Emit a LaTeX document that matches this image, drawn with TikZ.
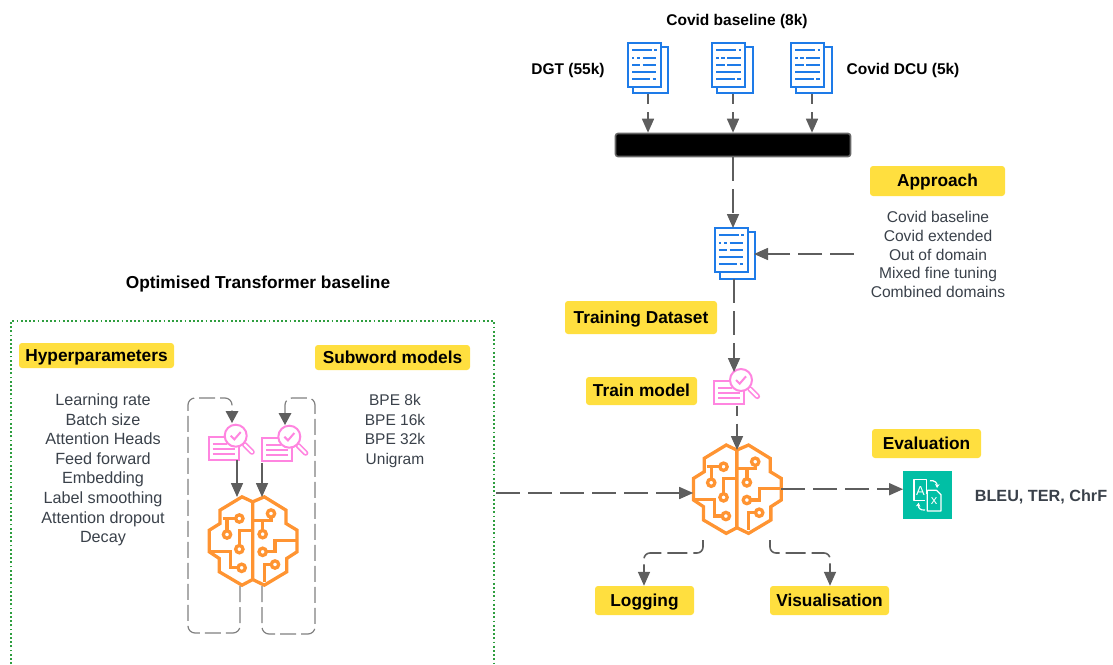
\documentclass[tikz,border=0pt]{standalone}
\usepackage{fontspec}
\setmainfont{Liberation Sans}
\usetikzlibrary{arrows.meta,calc}
\definecolor{ybox}{HTML}{FFDF3F}
\definecolor{blueicon}{HTML}{1E7BE8}
\definecolor{pinkicon}{HTML}{FF85E0}
\definecolor{orangeicon}{HTML}{FF9432}
\definecolor{tealicon}{HTML}{01BFA5}
\definecolor{conn}{HTML}{5E5E5E}
\definecolor{txt}{HTML}{3A414A}
\definecolor{greenbox}{HTML}{2E9E3F}
\tikzset{
  tag/.style={fill=ybox,rounded corners=3pt,inner sep=0pt,text height=12pt,text depth=1pt,font=\fontsize{17.3}{20}\selectfont\bfseries,text=black,anchor=center},
  flow/.style={draw=conn,line width=1.6pt,dash pattern=on 24pt off 8pt,-{Triangle[length=14pt,width=12pt]}},
  shortstart/.style={dash phase=14pt},
  solidflow/.style={draw=conn,line width=1.6pt,-{Triangle[length=14pt,width=12pt]}},
  loopflow/.style={draw=black!50,line width=1.2pt,dash pattern=on 16pt off 5pt,rounded corners=7pt},
  blabel/.style={font=\fontsize{15.5}{18}\selectfont\bfseries,text=black},
  body/.style={font=\fontsize{15.6}{18.8}\selectfont,text=txt,align=center},
  iconspot/.style={inner sep=0pt,outer sep=0pt,draw=none,fill=none},
}
\newcommand{\docicon}[2]{%
\begin{scope}[shift={(#1,#2)},x=.3333pt,y=-.3333pt,draw=blueicon,line width=2pt]
\draw[fill=white] (0,0) rectangle (99,132);
\draw (99,12)--(122,12)--(122,152)--(15,152)--(15,132);
\draw (13,22)--(72,22) (80,22)--(88,22);
\draw (13,45)--(20,45) (28,45)--(38,45) (45,45)--(86,45);
\draw (13,66)--(38,66) (45,66)--(86,66);
\draw (13,88)--(86,88);
\draw (13,108)--(68,108) (75,108)--(86,108);
\end{scope}}
\newcommand{\searchicon}[2]{%
\begin{scope}[shift={(#1,#2)},x=.3333pt,y=-.3333pt,draw=pinkicon,line width=2pt]
\draw (0,0) rectangle (90,70);
\draw (12,22)--(55,22) (12,37)--(78,37) (12,52)--(78,52);
\draw[line width=5.5pt,line cap=round] (108,24)--(130,46);
\draw[draw=white,line width=2.2pt,line cap=round] (108,24)--(130,46);
\draw[fill=white] (81,-3) circle[radius=33];
\draw[line width=2pt] (66,-3)--(77,8)--(96,-14);
\end{scope}}
\newcommand{\brainicon}[2]{%
\begin{scope}[shift={(#1,#2)},x=.3333pt,y=-.3333pt,draw=orangeicon,line width=3.3pt,line join=miter]
\begin{scope}[shift={(-171,-387.5)}]
\draw (170,270)--(138,255)--(72,295)--(72,335)--(40,355)--(40,420)--(70,440)--(70,480)--(138,520)--(170,503)--cycle;
\draw (170,270)--(205,255)--(270,295)--(270,335)--(303,355)--(303,420)--(272,440)--(272,480)--(205,520)--(170,503);
\draw (80,320)--(120,320) (93,320)--(93,358);
\draw (130,320) circle[radius=11];
\draw (93,368) circle[radius=11];
\draw (170,355)--(130,355)--(130,401);
\draw (130,412) circle[radius=11];
\draw (40,418)--(103,418)--(103,468)--(126,468);
\draw (137,468) circle[radius=11];
\draw (170,325)--(225,325)--(225,316);
\draw (225,305) circle[radius=11];
\draw (200,325)--(200,356);
\draw (200,367) circle[radius=11];
\draw (211,420)--(237,420)--(237,385)--(303,385);
\draw (200,420) circle[radius=11];
\draw (205,510)--(205,458)--(226,458);
\draw (237,458) circle[radius=11];
\end{scope}
\end{scope}}
\begin{document}
\begin{tikzpicture}[x=1pt,y=-1pt]
\useasboundingbox (0,0) rectangle (1113,664);
% green frame
\coordinate (gbl) at (11,664);
\coordinate (gtl) at (11,321);
\coordinate (gtr) at (494,321);
\coordinate (gbr) at (494,664);
\draw[greenbox,line width=1.7pt,dash pattern=on 1.8pt off 2.4pt] (gbl)--(gtl)--(gtr)--(gbr);
% titles
\node[blabel] (tcovid) at (737,21) {Covid baseline (8k)};
\node[blabel] (tdgt) at (568,70) {DGT (55k)};
\node[blabel] (tdcu) at (903,70) {Covid DCU (5k)};
\node[font=\fontsize{17.3}{20}\selectfont\bfseries] (topt) at (258,284) {Optimised Transformer baseline};
\node[font=\fontsize{16.2}{18}\selectfont\bfseries,text=txt] (tbleu) at (1041,497) {BLEU, TER, ChrF};
% tags
\node[tag,minimum width=135pt,minimum height=30pt] (approach) at (937.5,181) {Approach};
\node[tag,minimum width=152pt,minimum height=33pt] (training) at (641,317.5) {Training Dataset};
\node[tag,minimum width=111pt,minimum height=28pt] (trainm) at (641.5,391) {Train model};
\node[tag,minimum width=109pt,minimum height=29pt] (evalu) at (926.5,443.5) {Evaluation};
\node[tag,minimum width=99pt,minimum height=29pt] (logg) at (644.5,600.5) {Logging};
\node[tag,minimum width=119pt,minimum height=29pt] (visu) at (829.5,600.5) {Visualisation};
\node[tag,minimum width=155pt,minimum height=25pt] (hyper) at (96.5,355.5) {Hyperparameters};
\node[tag,minimum width=155pt,minimum height=25pt] (subw) at (392.5,357.5) {Subword models};
% lists
\node[body] (lapproach) at (938,254.5) {Covid baseline\\Covid extended\\Out of domain\\Mixed fine tuning\\Combined domains};
\node[body,font=\fontsize{16.2}{19.6}\selectfont] (lhyper) at (103,470) {Learning rate\\Batch size\\Attention Heads\\Feed forward\\Embedding\\Label smoothing\\Attention dropout\\Decay};
\node[body,font=\fontsize{15.5}{19.6}\selectfont] (lsub) at (395,431) {BPE 8k\\BPE 16k\\BPE 32k\\Unigram};
% bar
\node[fill=black,draw=black!60,line width=1.6pt,rounded corners=2.5pt,minimum width=235pt,minimum height=23pt,inner sep=0pt] (bar) at (733,145) {};
% icons
\docicon{627.7}{42.7}\docicon{712}{42.7}\docicon{791}{42.7}\docicon{714.5}{228}
\node[iconspot,minimum width=40pt,minimum height=51pt] (d1) at (648,68.5) {};
\node[iconspot,minimum width=40pt,minimum height=51pt] (d2) at (733,68.5) {};
\node[iconspot,minimum width=40pt,minimum height=51pt] (d3) at (812,68.5) {};
\node[iconspot,minimum width=40pt,minimum height=51pt] (d4) at (734,253.5) {};
\searchicon{714}{381}\searchicon{208.7}{436.7}\searchicon{262.3}{437.7}
\node[iconspot,minimum width=46pt,minimum height=37pt] (s0) at (737,387) {};
\node[iconspot,minimum width=46pt,minimum height=37pt] (s1) at (232,442.5) {};
\node[iconspot,minimum width=46pt,minimum height=37pt] (s2) at (285,443.5) {};
\brainicon{737.2}{489.2}\brainicon{253}{541}
\node[iconspot,minimum width=88pt,minimum height=88pt] (b0) at (737.2,489.2) {};
\node[iconspot,minimum width=88pt,minimum height=88pt] (b1) at (253,541) {};
% translate icon
\node[fill=tealicon,minimum width=49pt,minimum height=48.5pt,inner sep=0pt] (trans) at (927.8,495.2) {};
\begin{scope}[shift={(890,460)},x=.3333pt,y=-.3333pt,draw=white,line width=1.2pt,line join=round]
\draw (109,102)--(109,58)--(72,58)--(72,122)--(105,122);
\node[text=white,font=\fontsize{13}{13}\selectfont,inner sep=0pt] (ta) at (91,93) {A};
\draw[fill=tealicon] (112,91)--(140,91)--(153,104)--(153,153)--(112,153)--cycle;
\node[text=white,font=\fontsize{13}{13}\selectfont,inner sep=0pt] (tx) at (132,123) {x};
\draw[-{Stealth[length=4pt,width=4.5pt]}] (120,62) .. controls (135,60) and (142,70) .. (141,84);
\draw[-{Stealth[length=4pt,width=4.5pt]}] (105,150) .. controls (90,152) and (84,142) .. (86,128);
\end{scope}
% connectors
\draw[flow,shortstart] (d1.south)--(d1.south |- bar.north);
\draw[flow,shortstart] (d2.south)--(d2.south |- bar.north);
\draw[flow,shortstart] (d3.south)--(d3.south |- bar.north);
\draw[flow] (bar.south)--(d4.north -| bar.south);
\coordinate (apin) at (854,254);
\draw[flow] (apin)--(d4.east |- apin);
\coordinate (sin) at (734,372);
\draw[flow] (d4.south)--(sin);
\coordinate (btop) at (737,450);
\draw[flow,shortstart] (s0.south)--(btop);
\coordinate (lin) at (496,493);
\draw[flow] (lin)--(b0.west |- lin);
\draw[flow] (b0.east)--(trans.west |- b0.east);
\coordinate (bl) at (703,540);
\coordinate (br) at (770,540);
\draw[flow,rounded corners=6pt,dash pattern=on 20pt off 6pt] (bl)--(703,553)--(644,553)--(logg.north -| 644,553);
\draw[flow,rounded corners=6pt,dash pattern=on 20pt off 6pt] (br)--(770,553)--(830,553)--(visu.north -| 830,553);
% left loops
\coordinate (l1s) at (240,586);
\coordinate (l2s) at (262,586);
\draw[loopflow] (l1s)--(240,633)--(188,633)--(188,398)--(232,398)--(232,411);
\draw[loopflow] (l2s)--(262,634)--(315,634)--(315,398)--(285,398)--(285,413);
\fill[conn] (225.5,411)--(238.5,411)--(232,423)--cycle;
\fill[conn] (278.5,413)--(291.5,413)--(285,425)--cycle;
\coordinate (p1) at (237,460);\coordinate (p1e) at (237,497);
\coordinate (p2) at (262,463);\coordinate (p2e) at (262,497);
\draw[solidflow] (p1)--(p1e);
\draw[solidflow] (p2)--(p2e);
\end{tikzpicture}
\end{document}
